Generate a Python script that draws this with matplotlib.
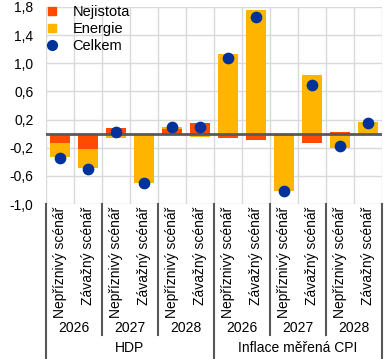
import numpy as np
import matplotlib.pyplot as plt
from matplotlib.lines import Line2D

plt.rcParams['font.family'] = ['Liberation Sans', 'DejaVu Sans']
plt.rcParams['font.size'] = 10

# data
scenarios = ['Nepříznivý scénář', 'Závažný scénář'] * 6
years = ['2026', '2027', '2028', '2026', '2027', '2028']
groups = ['HDP', 'Inflace měřená CPI']
nejistota = [-0.13, -0.22, 0.08, -0.01, 0.06, 0.15, -0.06, -0.09, -0.03, -0.13, 0.02, 0.0]
energie = [-0.20, -0.27, -0.06, -0.69, 0.04, -0.05, 1.13, 1.76, -0.79, 0.83, -0.20, 0.16]
celkem = [-0.34, -0.50, 0.02, -0.70, 0.10, 0.10, 1.07, 1.66, -0.82, 0.69, -0.18, 0.15]

c_nej = '#ff4b00'
c_en = '#ffb400'
c_tot = '#003299'
c_dark = '#595959'

fig = plt.figure(figsize=(3.91, 3.59), dpi=100)
ax = fig.add_axes([46/391, 155/359, 336/391, 197/359])

x = np.arange(len(celkem))
nej = np.array(nejistota)
en = np.array(energie)
bottom_en = np.where(np.sign(nej) == np.sign(en), nej, 0)

w = 0.68
ax.bar(x, nej, w, color=c_nej, zorder=2)
ax.bar(x, en, w, bottom=bottom_en, color=c_en, zorder=2)
ax.axhline(0, color=c_dark, lw=2, zorder=3)
ax.scatter(x, celkem, s=55, color=c_tot, zorder=4)

ax.set_xlim(-0.5, len(x) - 0.5)
ax.set_ylim(-1.0, 1.8)
yt = np.arange(-1.0, 1.81, 0.4)
ax.set_yticks(yt)
ax.set_yticklabels([('%.1f' % v).replace('.', ',') for v in yt])
ax.set_xticks(x)
ax.set_xticklabels(scenarios, rotation=90)
ax.tick_params(length=0, pad=2)
ax.tick_params(axis='y', pad=9)
for s in ax.spines.values():
    s.set_visible(False)

# grid
for yy in yt:
    ax.axhline(yy, color='#d9d9d9', lw=1, zorder=0)
for xx in np.arange(-0.5, len(x), 1):
    ax.axvline(xx, color='#d9d9d9', lw=1, zorder=0)

# category axis below
tr = ax.get_xaxis_transform()
for i, yr in enumerate(years):
    ax.text(2*i + 0.5, -0.63, yr, transform=tr, ha='center', va='center')
for i, g in enumerate(groups):
    ax.text(6*i + 2.5, -0.73, g, transform=tr, ha='center', va='center')
for xx in [1.5, 3.5, 7.5, 9.5]:
    ax.add_line(Line2D([xx, xx], [0, -0.665], transform=tr, color=c_dark, lw=1.5, clip_on=False))
for xx in [-0.5, 5.5, 11.5]:
    ax.add_line(Line2D([xx, xx], [0, -0.78], transform=tr, color=c_dark, lw=1.5, clip_on=False))

handles = [
    Line2D([], [], ls='none', marker='s', ms=6, color=c_nej, label='Nejistota'),
    Line2D([], [], ls='none', marker='s', ms=6, color=c_en, label='Energie'),
    Line2D([], [], ls='none', marker='o', ms=7, color=c_tot, label='Celkem'),
]
ax.legend(handles=handles, loc='upper left', bbox_to_anchor=(-0.03, 1.055), frameon=False,
          fontsize=10.5, handlelength=1.0, handletextpad=0.9, labelspacing=0.2, borderaxespad=0.2)

fig.savefig('out.png', dpi=100)
